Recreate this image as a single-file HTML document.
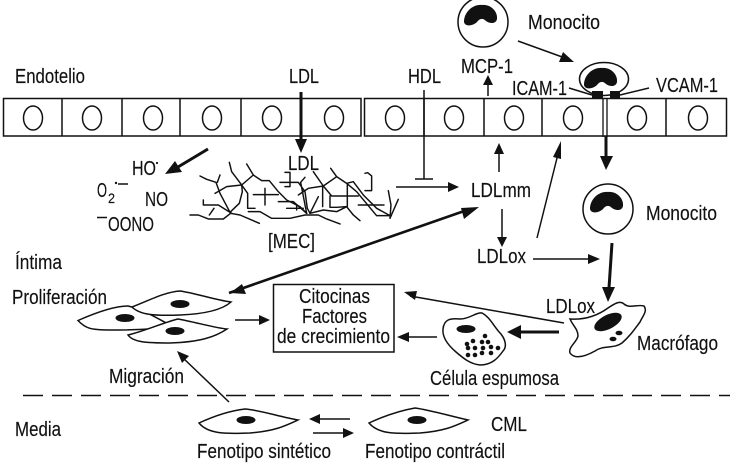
<!DOCTYPE html>
<html><head><meta charset="utf-8"><style>
html,body{margin:0;padding:0;background:#fff}
svg{display:block}
text{font-family:"Liberation Sans",sans-serif;font-size:20px;fill:#111;stroke:#111;stroke-width:.15}
.l{fill:none;stroke:#111;stroke-width:1.5}
.t{fill:none;stroke:#111;stroke-width:3}
.c{fill:#fff;stroke:#111;stroke-width:1.5}
.f{fill:#111;stroke:none}
</style></head><body>
<svg width="730" height="464" viewBox="0 0 730 464" xmlns="http://www.w3.org/2000/svg">
<defs></defs>
<!-- endothelium -->
<rect class="l" x="3.5" y="98.5" width="357.5" height="37.5"/>
<rect class="l" x="364.5" y="98.5" width="362" height="37.5"/>
<path class="l" d="M62 98V136M122 98V136M180 98V136M241 98V136M424 98V136M484 98V136M542 98V136M666 98V136"/>
<g class="l">
<ellipse cx="33" cy="118" rx="9.5" ry="12"/><ellipse cx="92" cy="118" rx="9.5" ry="12"/><ellipse cx="153" cy="118" rx="9.5" ry="12"/><ellipse cx="212" cy="118" rx="9.5" ry="12"/><ellipse cx="272" cy="118" rx="9.5" ry="12"/><ellipse cx="334" cy="118" rx="9.5" ry="12"/>
<ellipse cx="395" cy="118" rx="9.5" ry="12"/><ellipse cx="454" cy="118" rx="9.5" ry="12"/><ellipse cx="514" cy="118" rx="9.5" ry="12"/><ellipse cx="573" cy="118" rx="9.5" ry="12"/><ellipse cx="637" cy="118" rx="9.5" ry="12"/><ellipse cx="698" cy="118" rx="9.5" ry="12"/>
</g>
<!-- fibres -->
<g transform="translate(190 150) scale(.3333)" fill="none" stroke="#111" stroke-width="4.4" stroke-linejoin="round" stroke-linecap="round">
<path d="M0 195H25L55 207L100 207L122 190L150 195L208 220"/>
<path d="M30 78L50 88L78 97L90 130L120 187L148 160L157 125L155 105L125 65L118 37"/>
<path d="M75 130L110 110L155 105L190 75L170 42M190 75L215 92H238L265 125L290 150L330 170L350 190"/>
<path d="M90 75L82 97M155 105L173 130V175H195M190 134H265M225 115V165M40 150V165H85L125 190M72 175L58 195"/>
<path d="M175 185L210 185L245 205H300L345 195L385 195L410 207L450 222"/>
<path d="M270 97H300V67H285M285 110H300V97H325L345 125L352 175L360 190L385 140M325 135L355 115L400 108L370 65M345 82L332 97L350 190"/>
<path d="M400 108L440 80L422 55M440 80L470 100L490 95L520 135L560 175L600 197H560L500 125L470 100M400 108L425 138H505M472 100V170M398 108V170M420 138V172H440L470 170L490 195L510 212"/>
<path d="M360 190L400 180L440 185L470 170M505 165H582M595 122L603 165L600 205L625 148"/>
<path d="M265 155H310L350 190M290 175H340M320 165V180"/>
<path d="M525 70L533 68L545 78V122H525"/>
</g>
<!-- text labels -->
<text x="15" y="83" textLength="70" lengthAdjust="spacingAndGlyphs">Endotelio</text>
<text x="289" y="83" textLength="30" lengthAdjust="spacingAndGlyphs">LDL</text>
<text x="288" y="170" textLength="31" lengthAdjust="spacingAndGlyphs">LDL</text>
<text x="132" y="175" textLength="24" lengthAdjust="spacingAndGlyphs">HO</text>
<circle class="f" cx="157" cy="163" r="1.1"/>
<text x="97" y="197" textLength="10" lengthAdjust="spacingAndGlyphs">O</text>
<text x="108" y="203" textLength="7" lengthAdjust="spacingAndGlyphs" style="font-size:14px">2</text>
<circle class="f" cx="116" cy="183" r="1.2"/>
<path class="l" d="M118 184H128"/>
<text x="145" y="206" textLength="23" lengthAdjust="spacingAndGlyphs">NO</text>
<path class="l" d="M97 217.5H107"/>
<text x="108" y="231" textLength="46" lengthAdjust="spacingAndGlyphs">OONO</text>
<text x="268" y="248" textLength="47" lengthAdjust="spacingAndGlyphs">[MEC]</text>
<text x="528" y="29" textLength="72" lengthAdjust="spacingAndGlyphs">Monocito</text>
<text x="461" y="73" textLength="52" lengthAdjust="spacingAndGlyphs">MCP-1</text>
<text x="408" y="83" textLength="33" lengthAdjust="spacingAndGlyphs">HDL</text>
<text x="512" y="95" textLength="55" lengthAdjust="spacingAndGlyphs">ICAM-1</text>
<text x="656" y="92" textLength="62" lengthAdjust="spacingAndGlyphs">VCAM-1</text>
<text x="471" y="197" textLength="60" lengthAdjust="spacingAndGlyphs">LDLmm</text>
<text x="646" y="220" textLength="71" lengthAdjust="spacingAndGlyphs">Monocito</text>
<text x="477" y="263" textLength="49" lengthAdjust="spacingAndGlyphs">LDLox</text>
<text x="546" y="313" textLength="49" lengthAdjust="spacingAndGlyphs">LDLox</text>
<text x="637" y="350" textLength="81" lengthAdjust="spacingAndGlyphs">Macrófago</text>
<text x="430" y="385" textLength="129" lengthAdjust="spacingAndGlyphs">Célula espumosa</text>
<text x="491" y="431" textLength="36" lengthAdjust="spacingAndGlyphs">CML</text>
<text x="365" y="458" textLength="140" lengthAdjust="spacingAndGlyphs">Fenotipo contráctil</text>
<text x="197" y="458" textLength="134" lengthAdjust="spacingAndGlyphs">Fenotipo sintético</text>
<text x="15" y="436" textLength="46" lengthAdjust="spacingAndGlyphs">Media</text>
<text x="15" y="269" textLength="47" lengthAdjust="spacingAndGlyphs">Íntima</text>
<text x="12" y="304" textLength="95" lengthAdjust="spacingAndGlyphs">Proliferación</text>
<text x="109" y="383" textLength="75" lengthAdjust="spacingAndGlyphs">Migración</text>
<rect class="l" x="273.5" y="284.5" width="120.5" height="67.5"/>
<text x="299" y="303" textLength="71" lengthAdjust="spacingAndGlyphs">Citocinas</text>
<text x="302" y="323" textLength="65" lengthAdjust="spacingAndGlyphs">Factores</text>
<text x="277" y="343" textLength="113" lengthAdjust="spacingAndGlyphs">de crecimiento</text>
<!-- dashed -->
<path d="M23 395.5H730" fill="none" stroke="#111" stroke-width="1.5" stroke-dasharray="20 9"/>
<!-- monocytes -->
<circle class="c" cx="483" cy="22" r="25"/>
<path class="f" transform="translate(481 15)" d="M-17 7C-17 -3 -8 -11 1 -10C10 -11 17 -3 16 4C15 9 9 9 5 6C2 3 -1 3 -4 7C-8 11 -16 12 -17 7Z"/>
<circle class="c" cx="608" cy="209" r="25"/>
<path class="f" transform="translate(607 202)" d="M-17 7C-17 -3 -8 -11 1 -10C10 -11 17 -3 16 4C15 9 9 9 5 6C2 3 -1 3 -4 7C-8 11 -16 12 -17 7Z"/>
<ellipse class="c" cx="604" cy="79" rx="24.5" ry="16.5"/>
<path class="f" transform="translate(601 78)" d="M-17 7C-17 -3 -8 -11 1 -10C10 -11 17 -3 16 4C15 9 9 9 5 6C2 3 -1 3 -4 7C-8 11 -16 12 -17 7Z"/>
<rect class="f" x="592" y="91" width="11" height="8"/>
<rect class="f" x="610" y="91" width="10" height="8"/>
<path class="l" d="M569 88L592 95M620 95L649 88"/>
<path d="M603 98V137M607 98V137" fill="none" stroke="#111" stroke-width="1.3"/>
<!-- arrows -->
<path class="t" d="M301 92V140"/>
<path class="f" d="M295 139H307L301 153Z"/>
<path class="t" d="M208 149L178 167"/>
<path class="f" d="M165 174L175 161L182 172Z"/>
<path class="l" d="M488 96V80"/>
<path class="f" d="M483 85L488 75L493 85Z"/>
<path class="l" d="M518 41L565 58"/>
<path class="f" d="M574 62L559 62L563 52Z"/>
<path class="t" d="M606 136V160"/>
<path class="f" d="M600 156H613L606 170Z"/>
<path class="l" d="M424 90V179M415 179H433"/>
<path class="l" d="M396 187H450"/>
<path class="f" d="M448 182L459 187L448 192Z"/>
<path class="l" d="M499 172V150"/>
<path class="f" d="M494 154L499 143L504 154Z"/>
<path class="l" d="M537 238L558 154"/>
<path class="f" d="M553 157L561 141L561 159Z"/>
<path class="l" d="M502 209V240"/>
<path class="f" d="M497 237H507L502 247Z"/>
<path d="M229 293L470 209" fill="none" stroke="#111" stroke-width="2.6"/>
<path class="f" d="M479 207L464 219L461 208Z"/>
<path class="f" d="M230 293L242 284L246 294Z"/>
<path class="l" d="M533 259H590"/>
<path class="f" d="M588 254L600 259L588 264Z"/>
<path class="t" d="M612 243L609 288" stroke-width="2.6"/>
<path class="f" d="M602 287L615 287L608 302Z"/>
<path class="l" d="M564 323L410 296"/>
<path class="f" d="M404 292L417 291L415 300Z"/>
<path class="t" d="M559 332H515" stroke-width="2.6"/>
<path class="f" d="M507 332L521 325V339Z"/>
<path class="l" d="M437 337H405"/>
<path class="f" d="M397 337L409 332V342Z"/>
<path class="l" d="M235 320H262"/>
<path class="f" d="M259 315L270 320L259 325Z"/>
<path class="l" d="M229 402L182 357"/>
<path class="f" d="M177 351L189 356L182 363Z"/>
<path class="l" d="M350 419H318"/>
<path class="f" d="M309 419L320 414V424Z"/>
<path class="l" d="M313 433H344"/>
<path class="f" d="M343 428L354 433L343 438Z"/>
<!-- smooth muscle cells -->
<path class="c" d="M78 320.5C95 313 115 306 128 306C145 310 160 320 172 326C160 329 140 330 110 330C90 330 85 328 78 320.5Z"/>
<path class="c" d="M132 307C150 300 165 292 180 291C195 293 215 300 231 302C222 310 205 314 180 315C155 316 140 315 132 307Z"/>
<path class="c" d="M128 335C145 331 165 322 178 319C195 322 215 328 227 329C215 337 200 342 170 343C145 343 133 342 128 335Z"/>
<ellipse class="f" cx="125" cy="318" rx="9.5" ry="4"/>
<ellipse class="f" cx="180" cy="304" rx="9.5" ry="4"/>
<ellipse class="f" cx="175" cy="331" rx="9.5" ry="4"/>
<path class="c" d="M199 423C212 417 228 411 245 409C260 410 280 417 298 420C285 426 275 431 250 433C225 434 208 434 199 423Z"/>
<ellipse class="f" cx="246" cy="420" rx="9.5" ry="4"/>
<path class="c" d="M369 423C382 417 398 411 415 408C430 410 450 416 468 420C455 426 445 431 420 433C395 434 378 434 369 423Z"/>
<ellipse class="f" cx="417" cy="420" rx="9.5" ry="4"/>
<!-- foam cell -->
<path class="c" d="M443 329C444 320 449 318 460 319C470 319 476 312 482 313C490 317 494 327 501 334C507 342 506 348 503 351C498 358 492 365 480 365C470 364 463 358 456 352C449 346 442 338 443 329Z"/>
<ellipse class="f" cx="466" cy="329" rx="9.5" ry="4"/>
<g class="f"><circle cx="485" cy="336" r="2.3"/><circle cx="473" cy="341" r="2.3"/><circle cx="482" cy="342" r="2.3"/><circle cx="488" cy="342" r="2.3"/><circle cx="467" cy="344" r="2.3"/><circle cx="468" cy="348" r="2.3"/><circle cx="475" cy="348" r="2.3"/><circle cx="483" cy="348" r="2.3"/><circle cx="491" cy="347" r="2.3"/><circle cx="498" cy="348" r="2.3"/><circle cx="468" cy="355" r="2.3"/><circle cx="475" cy="355" r="2.3"/><circle cx="482" cy="353" r="2.3"/><circle cx="491" cy="353" r="2.3"/></g>
<!-- macrophage -->
<path class="c" d="M570 319C585 320 597 316 608 308C614 304 620 300 624 304C630 309 637 304 644 306C648 311 642 317 640 322C634 330 630 336 622 343C614 349 603 345 595 351C586 356 575 360 570 353C568 347 577 342 578 336C578 329 573 326 570 319Z"/>
<ellipse class="f" cx="608" cy="322" rx="15" ry="7" transform="rotate(-27 608 322)"/>
<ellipse class="f" cx="619" cy="333" rx="3.5" ry="2.3"/>
<ellipse class="f" cx="613" cy="339" rx="3.5" ry="2.3"/>
</svg>
</body></html>
